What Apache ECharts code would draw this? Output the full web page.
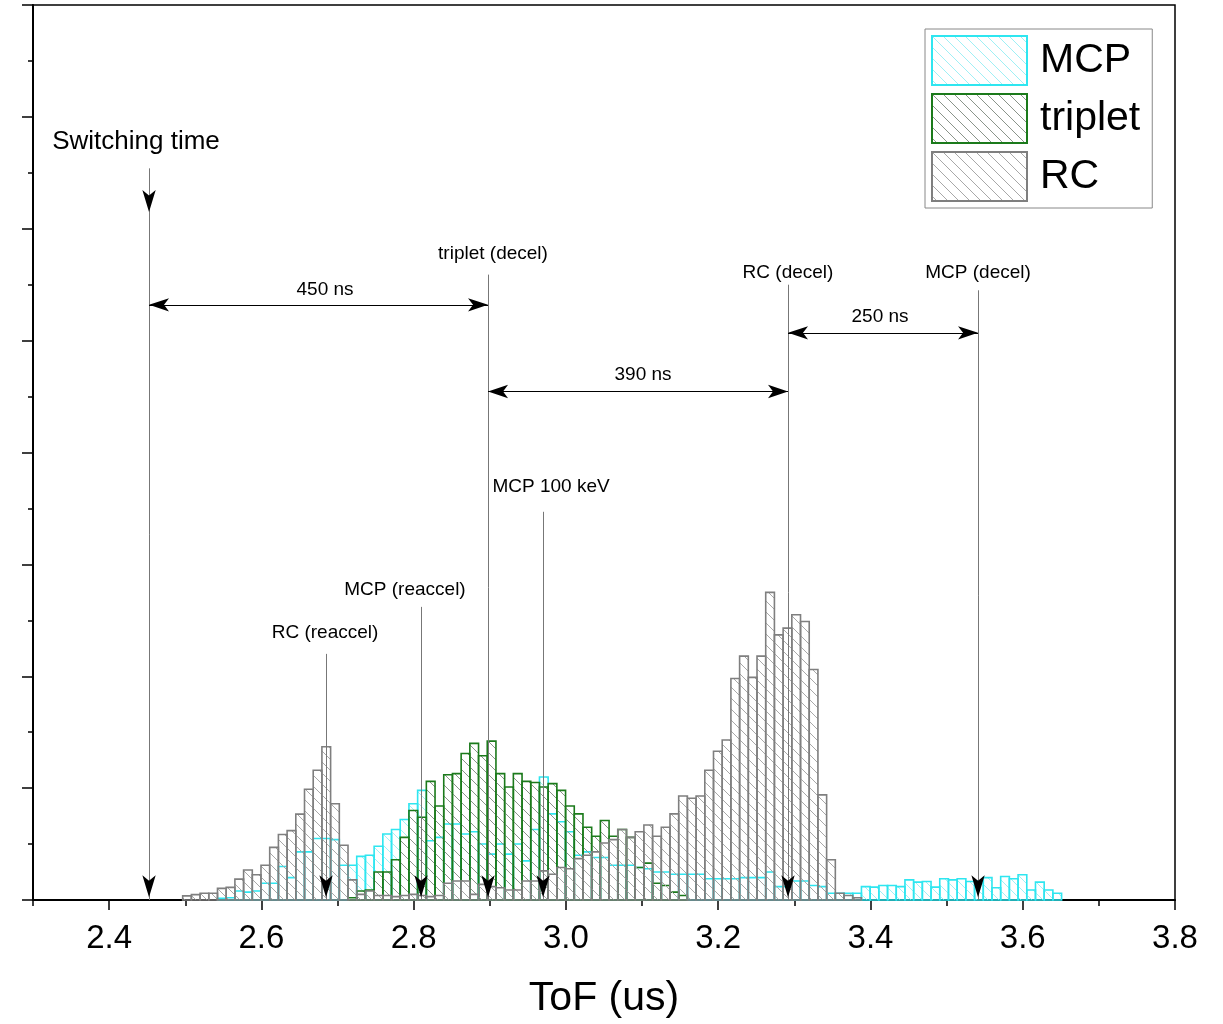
<!DOCTYPE html>
<html>

<head>
  <meta charset="utf-8">
  <title>ToF</title>
  <script src="https://cdn.jsdelivr.net/npm/echarts@6/dist/echarts.min.js"></script>
</head>

<body style="margin:0; background:#fff;">
  <div id="main" style="width:1223px; height:1024px;"></div>
  <script type="text/javascript">
    // histogram bins (us)
    var binStart = 2.4966;
    var binWidth = 0.01143;

    // counts per bin
    var mcpStart = 0;
    var mcpCounts = [
      0, 0, 0, 0, 1.5, 2, 8, 7, 8, 15,
      15, 30, 20, 43, 43, 55, 55, 54, 31, 31,
      39, 40, 48, 59, 63, 72, 86, 98, 53, 56,
      68, 68, 59, 61, 50, 41, 50, 41, 50, 35,
      63, 110, 77, 70, 61, 40, 43, 38, 38, 31,
      31, 31, 29, 28, 25, 25, 23, 23, 23, 23,
      19, 19, 19, 19, 20, 20, 20, 25, 12, 12,
      17, 17, 13, 12, 6, 6, 6, 6, 12, 11.5,
      13, 13, 12, 18, 16, 16.5, 11.5, 19, 18, 19,
      16.5, 17, 20, 11, 21, 19, 22.6, 9, 16, 9,
      6
    ];
    var tripletStart = 19;
    var tripletCounts = [
      2, 8, 9, 25, 25, 36, 56, 80, 74, 106,
      84, 112, 113, 131, 140, 129, 142, 113, 101, 113,
      106, 105, 101, 104, 98, 84, 77, 65, 57, 71,
      57, 63, 56, 29, 33, 15, 13, 7, 4
    ];
    var rcStart = 0;
    var rcCounts = [
      3.7, 4.8, 6, 6, 10.4, 11.3, 18.7, 26.8, 22.6, 31,
      47, 58.6, 62, 76.8, 99, 116, 137, 86, 49, 18,
      5, 8, 4, 4, 3, 4, 5, 4, 3, 4,
      15, 17, 17, 5, 14, 12, 11, 9, 9, 17,
      17, 26, 23, 29, 28, 37, 40, 43, 51, 54,
      63, 56, 61, 67, 57, 65, 77, 93, 91, 93,
      116, 133, 143, 198, 218, 199, 218, 275, 237, 243,
      255, 249, 206, 94, 36, 6, 4, 2
    ];

    var xMajorTicks = [2.4, 2.6, 2.8, 3.0, 3.2, 3.4, 3.6, 3.8];
    var xTickLabels = ['2.4', '2.6', '2.8', '3.0', '3.2', '3.4', '3.6', '3.8'];
    var xMinorTicks = [2.3, 2.5, 2.7, 2.9, 3.1, 3.3, 3.5, 3.7];

    // vertical markers: x position and top of the line
    var markerX = [2.4524, 2.6849, 2.8097, 2.8977, 2.97, 3.2917, 3.5413];
    var markerTop = [654, 220, 262, 559, 347, 550, 545];

    // time spans between markers
    var spanFrom = [2.4524, 2.8977, 3.2917];
    var spanTo = [2.8977, 3.2917, 3.5413];
    var spanY = [532, 454.5, 507];

    // text notes
    var noteTexts = ['Switching time', '450 ns', 'triplet (decel)', '390 ns', 'RC (decel)', '250 ns',
      'MCP (decel)', 'MCP 100 keV', 'MCP (reaccel)', 'RC (reaccel)'];
    var noteX = [2.4353, 2.6836, 2.9042, 3.1013, 3.2917, 3.4126, 3.5413, 2.9804, 2.7886, 2.6836];
    var noteY = [677.7, 545.5, 577.7, 469.6, 560.7, 521.4, 560.7, 369.6, 277.7, 239.3];

    var font = 'Liberation Sans, Arial, sans-serif';

    function hatch(color, size) {
      var c = document.createElement('canvas');
      c.width = c.height = size;
      var ctx = c.getContext('2d');
      ctx.strokeStyle = color;
      ctx.lineWidth = 1;
      ctx.beginPath();
      ctx.moveTo(0, 0); ctx.lineTo(size, size);
      ctx.moveTo(-2, size - 2); ctx.lineTo(2, size + 2);
      ctx.moveTo(size - 2, -2); ctx.lineTo(size + 2, 2);
      ctx.stroke();
      return { image: c, repeat: 'repeat' };
    }

    function histSeries(name, start, counts, stroke, fill) {
      var data = [];
      counts.forEach(function (v, i) {
        var x0 = binStart + (start + i) * binWidth;
        if (v > 0) data.push([x0, x0 + binWidth, v]);
      });
      return {
        name: name,
        type: 'custom',
        data: data,
        encode: { x: [0, 1], y: 2 },
        itemStyle: { color: fill, borderColor: stroke, borderWidth: 1.6 },
        renderItem: function (params, api) {
          var a = api.coord([api.value(0), 0]);
          var b = api.coord([api.value(1), api.value(2)]);
          return {
            type: 'rect',
            shape: { x: a[0], y: b[1], width: b[0] - a[0], height: a[1] - b[1] },
            style: { fill: fill, stroke: stroke, lineWidth: 1.6 }
          };
        }
      };
    }

    var arrowV = 2.5;

    var myChart = echarts.init(document.getElementById('main'));

    myChart.setOption({
      animation: false,
      backgroundColor: '#fff',
      grid: { left: 33, right: 48, top: 5, bottom: 123, show: true, borderColor: '#000', borderWidth: 1.5 },
      legend: {
        orient: 'vertical',
        left: 925,
        top: 29,
        data: ['MCP', 'triplet', 'RC'],
        icon: 'rect',
        itemWidth: 95,
        itemHeight: 49,
        itemGap: 7,
        padding: [6, 12, 6, 6],
        borderColor: '#888',
        borderWidth: 1,
        selectedMode: false,
        textStyle: { fontSize: 41, fontFamily: font, color: '#000', padding: [0, 0, 0, 8] }
      },
      xAxis: [{
        type: 'value',
        min: 2.3,
        max: 3.8,
        position: 'bottom',
        axisLine: { show: true, lineStyle: { color: '#000', width: 2 } },
        axisTick: { show: true, customValues: xMajorTicks, length: 10, lineStyle: { color: '#000', width: 1.5 } },
        axisLabel: {
          customValues: xMajorTicks,
          margin: 22,
          fontSize: 33,
          fontFamily: font,
          color: '#000',
          formatter: function (v) {
            var i = xMajorTicks.findIndex(function (t) { return Math.abs(t - v) < 1e-6; });
            return i < 0 ? '' : xTickLabels[i];
          }
        },
        splitLine: { show: false },
        name: 'ToF (us)',
        nameLocation: 'middle',
        nameGap: 78,
        nameTextStyle: { fontSize: 41, fontFamily: font, color: '#000' }
      }, {
        type: 'value',
        min: 2.3,
        max: 3.8,
        position: 'bottom',
        axisLine: { show: false },
        axisTick: { show: true, customValues: xMinorTicks, length: 6, lineStyle: { color: '#000', width: 1.5 } },
        axisLabel: { show: false },
        splitLine: { show: false }
      }],
      yAxis: {
        type: 'value',
        min: 0,
        max: 800,
        interval: 100,
        axisLine: { show: true, lineStyle: { color: '#000', width: 2 } },
        axisTick: { show: true, length: 11, lineStyle: { color: '#000', width: 1.5 } },
        minorTick: { show: true, splitNumber: 2, length: 5, lineStyle: { color: '#000', width: 1.5 } },
        axisLabel: { show: false },
        splitLine: { show: false }
      },
      series: [
        histSeries('MCP', mcpStart, mcpCounts, '#2ee6f0', hatch('#9ff0f5', 11)),
        histSeries('triplet', tripletStart, tripletCounts, '#1b7a1b', hatch('#8a948a', 11)),
        histSeries('RC', rcStart, rcCounts, '#7f7f7f', hatch('#a8a8a8', 11)),
        {
          type: 'scatter',
          name: 'markers',
          data: [],
          silent: true,
          markLine: {
            silent: true,
            symbol: ['none', 'none'],
            label: { show: false },
            lineStyle: { color: '#777', width: 1, type: 'solid' },
            data: markerX.map(function (x, i) {
              return [{ coord: [x, markerTop[i]] }, { coord: [x, 0] }];
            })
          },
          markPoint: {
            silent: true,
            symbol: 'arrow',
            symbolSize: [10, 22],
            symbolRotate: 180,
            itemStyle: { color: '#000' },
            label: { show: false },
            data: markerX.map(function (x) { return { coord: [x, arrowV] }; })
              .concat([{ coord: [markerX[0], markerTop[0] - 39] }])
          }
        },
        {
          type: 'scatter',
          name: 'notes',
          symbolSize: 1,
          silent: true,
          itemStyle: { color: 'rgba(0,0,0,0)' },
          data: noteTexts.map(function (t, i) {
            return { name: t, value: [noteX[i], noteY[i]], label: { fontSize: i === 0 ? 26 : 19 } };
          }),
          label: {
            show: true, position: 'inside', formatter: '{b}', color: '#000',
            textBorderWidth: 0, opacity: 1, fontFamily: font
          },
          markLine: {
            silent: true,
            label: { show: false },
            lineStyle: { color: '#000', width: 1, type: 'solid' },
            data: spanFrom.map(function (x, i) {
              return [
                { coord: [x, spanY[i]], symbol: 'arrow', symbolSize: [10, 20] },
                { coord: [spanTo[i], spanY[i]], symbol: 'arrow', symbolSize: [10, 20] }
              ];
            })
          }
        }
      ]
    });
  </script>
</body>

</html>
